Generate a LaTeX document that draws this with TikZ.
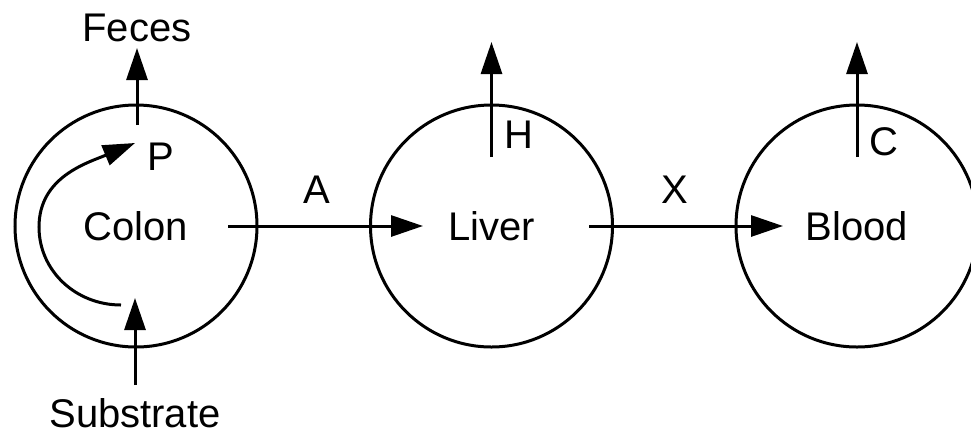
\documentclass[tikz,border=0pt]{standalone}
\usepackage{fontspec}
\setmainfont{Liberation Sans}
\usetikzlibrary{positioning,arrows.meta,calc}

\begin{document}
\begin{tikzpicture}[x=0.5pt, y=-0.5pt,
    compartment/.style={draw, circle, line width=1.5pt, minimum size=121pt,
        inner sep=0pt, outer sep=0pt, font=\fontsize{20}{24}\selectfont},
    flow/.style={-{Triangle[length=16pt, width=10.5pt]}, line width=1.5pt},
    lbl/.style={font=\fontsize{20}{24}\selectfont, inner sep=2pt},
]
\useasboundingbox (0,0) rectangle (971,435);

% Three compartments
\node[compartment] (colon) at (136,226) {Colon};
\node[compartment, right=56.75pt of colon] (liver) {Liver};
\node[compartment, right=61.75pt of liver] (blood) {Blood};

% Free ends of the flows
\coordinate (a0) at ($(colon.center)+(92,0)$);
\coordinate (a1) at ($(liver.center)+(-68.5,0)$);
\coordinate (x0) at ($(liver.center)+(97.5,0)$);
\coordinate (x1) at ($(blood.center)+(-74,0)$);
\coordinate (fec0) at ($(colon.center)+(1,-101)$);
\coordinate (fec1) at ($(colon.center)+(1,-178)$);
\coordinate (sub0) at ($(colon.center)+(-1,159)$);
\coordinate (sub1) at ($(colon.center)+(-1,72)$);
\coordinate (cyc0) at ($(colon.center)+(-15,79)$);
\coordinate (cycmid) at ($(colon.center)+(-97,1)$);
\coordinate (cyc1) at ($(colon.center)+(-1,-83)$);
\coordinate (h0) at ($(liver.center)+(0,-69)$);
\coordinate (h1) at ($(liver.center)+(0,-184)$);
\coordinate (c0) at ($(blood.center)+(0,-69)$);
\coordinate (c1) at ($(blood.center)+(0,-184)$);

% Transfers between compartments
\draw[flow] (a0) -- node[lbl, pos=0.456, above=8.5pt] (albl) {A} (a1);
\draw[flow] (x0) -- node[lbl, pos=0.443, above=8.5pt] (xlbl) {X} (x1);

% Colon in and out
\draw[flow] (sub0) -- (sub1);
\node[lbl, below=4.5pt of sub0] (substrate) {Substrate};
\draw[flow] (fec0) -- (fec1);
\node[lbl, above=1pt of fec1] (feces) {Feces};
\draw[flow] (cyc0) .. controls +(-45,0) and +(0,44) .. (cycmid)
    .. controls +(0,-50) and +(-48,20) .. (cyc1);
\node[lbl, anchor=north west, xshift=4pt, yshift=2pt] (plbl) at (cyc1) {P};

% Outflows of liver and blood
\draw[flow] (h0) -- node[lbl, pos=0.19, right=3.5pt] (hlbl) {H} (h1);
\draw[flow] (c0) -- node[lbl, pos=0.13, right=3.5pt] (clbl) {C} (c1);

\end{tikzpicture}
\end{document}
